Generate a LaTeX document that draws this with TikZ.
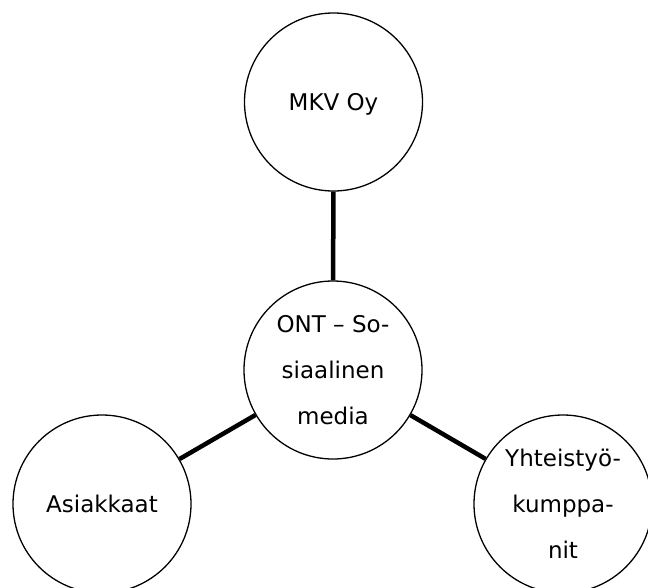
\documentclass[tikz,border=0pt]{standalone}
\usepackage{fontspec}
\setmainfont{DejaVu Sans}
\begin{document}
\begin{tikzpicture}[x=1pt,y=-1pt,
  bubble/.style={circle,draw=black,line width=1.3pt,minimum size=178pt,inner sep=0pt,
    align=center,font=\fontsize{23}{46}\selectfont},
  link/.style={draw=black,line width=4.5pt}]
\useasboundingbox (0,0) rectangle (648,587);
\clip (0,0) rectangle (648,587);
\node[bubble] (c) at (333,370) {ONT – So-\\siaalinen\\media};
\node[bubble,text depth=0pt] (t) at (333.5,102) {MKV Oy};
\node[bubble] (l) at (102,504) {Asiakkaat};
\node[bubble] (r) at (563,504) {Yhteistyö-\\kumppa-\\nit};
\draw[link] (c) -- (t);
\draw[link] (c) -- (l);
\draw[link] (c) -- (r);
\end{tikzpicture}
\end{document}
